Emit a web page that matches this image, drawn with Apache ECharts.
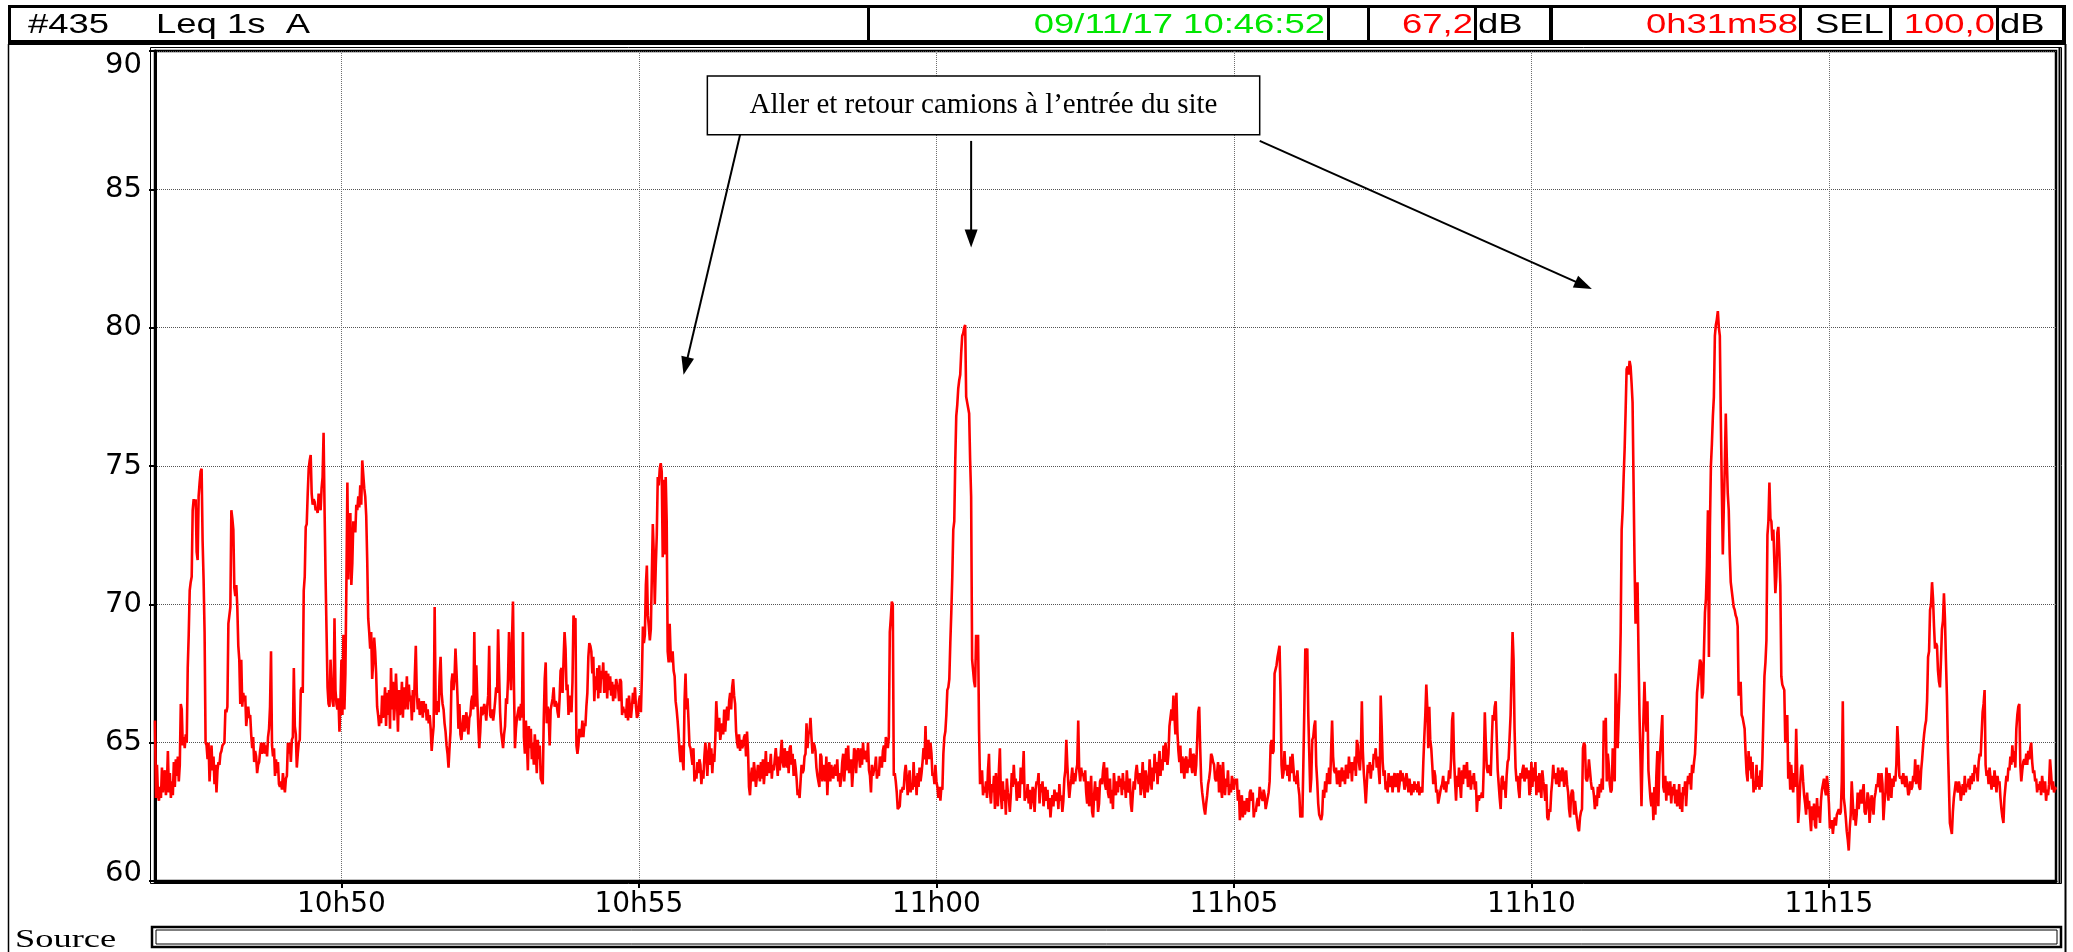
<!DOCTYPE html>
<html><head><meta charset="utf-8">
<script src="https://cdn.jsdelivr.net/npm/echarts@6/dist/echarts.min.js"></script>
<style>html,body{margin:0;padding:0;background:#fff;}#c{width:2073px;height:952px;}</style>
</head><body><div id="c"></div>
<script>
// ---- data ----
const startTime = '10:46:52';
const tickLabels = ['10h50', '10h55', '11h00', '11h05', '11h10', '11h15'];
const yTicks = [60, 65, 70, 75, 80, 85, 90];
// Leq 1s A, one value per second (dB)
const leq = [
65.8,63.0,64.2,63.1,62.9,63.4,63.0,64.1,63.2,63.8,64.0,63.1,63.5,64.7,63.2,63.9,63.0,63.6,63.1,64.3,
63.4,64.4,63.8,64.5,63.6,64.2,66.4,66.2,64.9,65.2,64.8,65.3,65.0,67.7,68.9,70.5,70.8,71.0,73.4,73.8,
73.6,73.8,71.9,71.6,73.9,74.4,74.8,74.9,72.3,70.9,69.0,65.0,64.9,64.4,65.0,63.6,64.3,64.9,64.0,64.5,
63.5,64.2,63.2,64.0,64.3,64.2,64.6,64.7,64.9,64.9,65.0,66.2,66.1,66.3,69.3,69.6,69.9,73.4,73.1,72.7,
70.6,70.3,70.7,69.9,68.5,68.0,66.4,68.0,66.3,66.8,66.5,66.7,65.6,66.0,66.3,65.9,66.0,65.3,64.8,65.2,
64.3,64.7,64.5,63.9,64.2,64.3,64.7,65.0,64.6,64.9,65.0,64.6,64.9,64.5,65.2,65.5,66.3,68.3,64.9,64.5,
64.8,63.8,64.4,63.9,64.3,63.5,63.4,63.6,63.3,63.9,63.5,63.2,63.7,63.8,65.0,64.6,65.0,64.3,65.1,65.2,
67.7,65.6,65.3,64.1,64.6,65.0,65.1,66.9,67.0,66.8,70.5,71.0,72.8,72.9,74.0,74.9,75.2,75.4,74.0,73.6,
73.8,73.7,73.4,73.5,73.3,74.0,73.7,73.4,74.2,74.6,76.2,73.4,71.0,69.0,67.0,66.4,66.3,68.0,67.0,66.5,
66.3,69.5,66.9,66.4,66.2,66.6,65.4,66.5,68.0,66.0,68.9,66.2,67.5,70.7,74.4,70.9,72.6,73.3,70.7,71.5,
73.0,72.9,72.6,73.6,73.4,73.9,73.5,74.3,73.6,75.2,74.7,74.2,73.9,73.2,71.6,69.5,69.0,68.4,69.0,67.3,
67.9,68.8,68.3,67.5,66.3,66.0,65.6,66.0,65.7,66.7,65.9,66.3,67.0,65.6,66.8,66.0,66.9,65.5,67.7,66.2,
67.2,65.8,66.4,67.5,66.6,65.4,66.9,66.0,66.3,67.2,65.9,67.0,66.2,66.6,67.4,66.2,67.1,66.5,66.7,65.8,
66.9,66.1,67.4,68.5,66.8,66.2,66.6,66.0,66.3,66.5,65.9,66.5,66.1,66.4,65.8,66.2,65.7,66.0,65.5,64.7,
65.2,65.6,69.9,66.4,66.0,66.5,66.1,67.4,68.1,66.8,66.4,66.2,65.7,65.4,64.9,64.6,64.1,64.8,65.4,67.2,
67.5,66.9,67.3,68.4,67.6,66.7,65.5,66.4,65.3,65.1,65.6,66.0,65.4,65.7,66.1,65.6,65.3,65.9,66.0,66.5,
66.7,66.2,69.0,66.3,67.8,66.6,65.6,64.8,65.4,66.3,66.0,66.1,66.4,66.2,65.8,66.3,66.7,68.5,66.0,65.9,
66.2,65.8,66.1,66.5,67.0,66.8,69.1,67.5,66.1,65.4,65.1,64.8,65.3,65.6,66.6,66.4,67.3,69.0,67.8,66.9,
68.7,70.1,67.0,64.8,65.5,65.9,66.1,66.3,65.8,66.4,65.9,69.0,65.2,64.6,65.8,65.0,64.0,65.6,64.8,65.5,
64.4,65.0,64.2,65.3,64.7,63.9,65.1,64.4,64.9,63.7,63.6,63.5,65.8,67.3,67.9,65.7,66.3,66.0,64.9,66.2,
66.2,66.6,67.0,66.3,66.5,66.4,66.1,65.9,66.6,67.6,67.7,66.8,68.0,69.0,68.4,66.9,67.1,66.0,66.7,66.4,
66.1,67.2,69.6,69.4,69.5,64.9,64.6,64.9,65.5,65.2,65.3,65.8,65.2,65.7,65.6,66.3,66.8,68.1,68.6,68.5,
68.3,67.5,68.1,66.5,67.4,66.9,67.7,66.6,67.8,66.8,67.6,67.3,67.9,66.8,67.1,67.6,66.6,67.5,66.9,67.4,
66.7,67.2,66.5,67.1,66.6,67.3,67.1,67.0,66.5,67.3,67.2,66.0,66.3,66.1,66.2,65.9,66.6,65.8,66.7,66.2,
65.9,66.3,66.8,66.4,67.0,66.3,65.9,66.0,66.5,66.7,66.1,67.4,69.2,68.6,68.9,70.7,71.4,69.6,69.2,68.7,
69.1,71.0,72.9,71.8,70.0,71.4,72.5,74.6,74.3,74.9,75.1,74.8,71.7,74.5,71.8,74.6,73.0,68.3,67.9,69.3,
68.2,67.9,68.3,67.6,67.4,66.5,66.2,65.8,65.3,64.7,64.3,64.9,64.4,64.0,66.5,67.5,66.2,66.6,65.8,64.9,
64.8,64.5,64.2,64.8,63.6,64.0,63.7,64.3,63.9,64.4,64.2,63.5,64.0,63.7,64.5,65.0,64.5,63.8,64.6,65.0,
64.2,64.8,63.9,64.6,64.3,65.1,66.5,65.8,65.4,65.9,65.1,65.4,65.7,65.3,66.2,65.4,66.0,66.3,65.8,66.5,
66.8,66.2,67.0,67.3,66.7,66.4,65.4,65.0,64.8,65.3,64.7,65.1,64.8,64.9,65.2,65.3,64.5,65.4,64.7,63.4,
63.1,63.8,64.1,63.6,64.3,63.9,63.4,63.8,64.2,63.9,63.6,64.3,63.7,64.4,63.5,64.0,64.7,63.8,64.3,63.9,
64.1,64.6,63.7,64.2,64.0,64.4,64.8,64.3,63.8,64.5,64.0,64.6,65.1,64.3,64.1,64.8,64.4,64.1,64.7,63.9,
64.8,64.9,64.2,64.6,63.8,64.4,64.1,63.7,63.1,63.3,63.0,63.6,64.2,63.9,64.0,64.5,64.6,65.7,64.8,65.3,
65.4,65.9,65.2,64.6,65.0,64.9,64.7,64.1,63.8,63.6,63.4,64.6,64.5,63.6,64.2,63.9,63.6,64.5,63.1,64.0,
64.3,63.6,64.2,63.9,63.7,64.1,64.2,63.8,64.4,63.6,63.9,63.4,63.7,64.3,64.6,63.6,64.2,64.8,64.0,64.9,
63.9,64.1,64.4,63.4,64.0,64.8,64.7,63.9,64.6,64.8,64.5,64.1,64.8,64.2,65.0,64.4,64.7,64.6,64.3,65.0,
64.0,63.8,63.2,64.2,63.8,64.0,64.1,64.5,63.7,63.9,63.8,64.5,64.3,64.1,64.7,64.9,64.3,65.2,65.1,64.8,
65.2,69.0,69.5,70.1,70.0,63.8,63.9,63.6,63.2,62.6,62.6,62.7,63.3,63.2,63.4,63.3,63.9,64.2,63.8,63.1,
63.6,64.0,63.2,63.5,63.3,64.3,63.4,63.8,63.1,63.9,63.4,64.1,63.6,63.9,64.3,64.8,64.4,65.6,64.2,64.9,
65.1,64.4,65.0,64.6,63.8,63.9,63.5,64.2,63.6,63.4,63.0,63.4,62.9,63.4,63.3,64.6,65.2,65.4,66.0,66.9,
67.0,67.3,68.6,69.7,71.0,72.7,73.0,75.2,76.8,77.2,77.8,78.1,78.3,79.1,79.7,79.8,80.0,80.1,77.5,77.3,
77.1,76.9,75.2,73.9,68.0,67.6,67.2,67.0,68.9,68.0,68.9,65.4,63.5,63.8,64.0,63.1,63.4,63.2,63.6,63.0,
64.0,64.6,63.2,62.8,63.5,63.2,63.8,62.6,63.9,63.1,62.7,64.0,64.8,63.1,62.6,63.6,62.9,63.3,62.4,63.7,
63.2,63.0,62.5,63.1,63.9,63.4,64.2,63.5,63.7,62.9,63.3,63.6,63.0,64.1,63.5,63.8,64.7,62.9,63.2,63.0,
63.5,62.8,63.3,62.6,62.9,63.4,63.2,62.5,63.3,63.6,63.5,63.9,62.8,63.5,63.2,63.6,62.7,63.1,63.4,62.9,
63.3,62.6,63.0,62.3,62.8,63.1,62.7,63.3,63.0,62.9,63.2,62.6,63.5,62.9,63.1,62.5,62.9,63.7,64.0,65.1,
64.2,63.5,63.0,63.4,63.7,64.1,63.5,63.9,63.6,64.0,64.2,65.8,64.0,63.6,64.1,63.8,63.9,63.6,64.0,63.2,
62.8,63.6,62.7,62.9,63.8,62.5,62.3,63.1,63.6,62.9,63.4,62.5,62.8,63.6,63.7,63.5,64.0,64.3,63.5,63.3,
64.1,63.2,63.0,63.7,62.8,63.3,62.6,63.9,63.4,63.1,63.6,63.2,63.8,63.4,63.7,63.1,63.9,63.3,63.6,63.0,
64.0,63.4,63.2,63.7,62.8,62.5,63.1,63.6,63.3,63.9,64.2,63.8,63.5,63.9,63.1,63.6,64.3,63.4,63.0,64.0,
63.7,63.2,63.5,64.4,63.8,63.3,64.1,63.6,64.6,63.9,64.3,63.5,64.2,64.7,63.8,64.4,64.0,64.9,64.3,65.0,
64.5,64.2,64.6,65.6,65.9,66.2,65.8,66.7,66.0,65.3,66.8,65.4,64.7,64.3,64.9,63.9,64.5,64.2,63.7,64.4,
64.5,63.9,64.4,64.1,64.8,64.2,63.9,64.6,64.5,63.8,64.2,65.1,66.1,66.3,64.8,63.6,63.2,62.9,62.6,62.4,
62.8,63.1,63.5,63.7,64.0,64.6,64.5,64.3,64.2,63.7,63.6,63.9,64.3,63.2,64.2,63.4,63.0,64.3,63.5,63.1,
63.7,63.4,64.0,63.1,63.5,63.2,63.8,63.5,63.3,63.7,63.5,63.7,62.9,63.3,62.2,62.8,63.1,62.3,62.9,62.4,
62.6,63.0,62.6,62.5,63.2,63.3,62.9,63.2,62.3,62.6,62.5,62.8,63.0,62.7,63.4,63.2,63.0,62.9,63.3,63.1,
62.6,62.8,63.0,63.2,63.6,64.9,65.1,64.6,64.7,67.5,67.5,67.8,68.1,68.3,68.5,66.8,64.2,63.7,63.9,64.7,
64.0,64.2,63.8,64.2,63.6,64.5,63.9,64.6,64.1,63.6,63.8,63.5,64.0,63.4,63.1,62.3,62.4,62.3,64.2,66.2,
68.4,68.3,68.4,66.0,64.6,63.2,63.7,65.1,65.2,65.6,65.8,64.2,63.6,62.8,62.4,62.3,62.2,62.4,63.3,63.0,
63.6,63.2,63.9,63.5,64.1,63.5,64.7,65.8,64.5,64.0,63.9,64.1,63.5,63.7,64.0,63.4,63.9,64.1,63.6,64.0,
63.5,64.2,64.0,63.7,64.5,63.9,64.3,63.6,64.3,64.0,64.5,63.8,65.1,64.9,64.3,64.0,64.6,66.5,64.7,63.9,
63.4,62.8,63.5,64.2,63.9,64.3,63.7,64.2,64.0,64.6,64.4,64.8,64.1,64.5,64.0,63.5,66.7,65.6,64.3,63.8,
64.0,63.3,63.6,63.2,63.9,63.4,63.5,63.8,63.2,63.7,63.9,63.4,63.6,63.9,63.2,63.5,64.0,63.6,63.9,63.7,
63.3,63.5,63.9,63.6,63.2,63.7,63.4,63.1,63.5,63.2,63.6,63.3,63.5,63.2,63.6,63.1,63.4,63.3,63.2,64.3,
65.2,66.0,67.1,66.3,64.8,66.3,65.1,64.8,64.2,63.5,64.0,63.8,63.2,63.3,62.8,63.0,63.2,63.4,63.5,63.8,
63.3,63.6,63.2,63.6,63.5,64.0,63.7,64.4,65.8,66.1,64.4,63.6,62.9,63.8,63.4,64.1,63.5,63.0,64.0,63.5,
64.2,63.7,63.9,64.3,63.4,63.6,64.0,63.3,63.8,63.5,63.9,63.3,63.6,62.5,63.1,62.9,63.1,63.0,63.2,63.0,
64.2,66.1,65.0,64.1,63.9,64.2,64.0,63.8,65.0,66.0,65.8,66.3,66.5,65.2,64.0,63.5,63.0,62.6,63.7,63.8,
63.3,63.6,63.0,63.8,64.3,64.4,64.4,66.0,67.5,69.0,68.0,65.5,64.1,63.6,63.8,63.3,63.0,63.9,63.7,64.0,
64.2,63.6,63.8,64.1,63.7,64.0,63.1,63.3,64.3,63.4,64.1,63.6,64.3,63.1,63.8,63.2,63.9,63.4,63.0,64.0,
63.6,63.3,62.9,63.5,62.3,62.2,62.6,62.5,63.2,63.6,64.2,63.7,63.9,63.5,63.6,64.1,63.4,64.0,63.6,64.1,
64.0,63.4,63.7,64.0,63.5,63.2,62.6,62.3,63.1,63.3,63.2,62.4,62.9,62.5,62.2,61.9,61.8,62.3,62.5,62.6,
64.8,65.0,64.9,63.7,63.6,63.8,64.4,64.0,63.6,63.3,63.4,63.1,62.6,63.1,62.7,63.4,63.0,63.5,63.2,63.7,
63.3,65.8,65.5,65.9,63.6,64.6,64.2,63.5,63.2,63.3,64.8,64.6,63.6,67.5,66.1,64.8,65.9,67.0,69.0,72.7,
73.4,74.6,75.6,77.0,78.5,78.6,78.3,78.8,78.6,78.0,77.3,74.4,71.5,69.3,69.6,70.8,68.2,66.0,64.4,62.7,
64.5,65.9,67.2,66.0,65.4,66.5,64.0,63.5,63.0,62.7,63.2,62.2,63.4,62.4,63.8,64.7,62.7,64.2,64.8,65.4,
66.0,63.4,63.2,63.8,62.9,63.6,63.3,63.1,63.6,62.8,63.4,63.1,63.5,62.8,63.3,62.7,62.9,63.5,62.6,63.2,
62.5,63.4,63.1,63.6,62.7,63.4,63.8,63.5,63.9,63.3,64.2,63.9,64.3,64.6,65.5,66.8,67.2,67.6,68.0,67.9,
66.6,66.8,68.3,69.7,70.2,71.4,73.4,68.1,72.8,75.0,75.8,76.8,77.5,79.7,80.1,80.3,80.6,80.0,79.7,76.7,
74.2,71.8,73.5,75.0,76.9,75.3,74.0,73.4,71.8,70.8,70.8,70.2,69.9,69.8,69.6,69.5,69.2,66.7,66.9,67.2,
66.0,65.9,65.7,65.5,64.6,63.9,63.6,64.7,64.0,64.5,63.7,64.3,63.2,63.6,63.3,64.2,63.4,63.8,63.3,64.0,
63.4,64.5,66.0,67.4,67.9,68.7,72.5,73.0,74.4,73.1,73.0,72.3,72.7,71.5,70.4,71.0,72.6,72.8,71.9,70.7,
67.4,67.1,67.0,66.9,65.0,65.8,66.0,63.7,64.3,63.3,64.2,63.5,63.2,63.9,63.4,65.5,64.0,62.1,62.6,63.5,
64.1,64.2,63.6,63.1,62.8,62.4,63.2,62.6,62.9,62.3,61.8,62.7,62.2,62.8,62.0,61.9,63.0,62.3,62.7,62.1,
62.9,63.3,63.5,63.7,63.3,63.1,63.8,63.4,62.8,61.9,62.0,62.2,61.7,62.1,62.3,62.0,62.4,62.5,62.6,62.4,
62.5,63.6,66.5,63.0,62.7,62.3,61.8,61.5,61.1,61.9,62.4,63.6,62.9,62.2,62.6,62.0,62.4,63.2,62.6,63.0,
63.3,62.8,63.2,63.5,62.5,62.4,62.7,63.2,63.0,62.1,62.6,63.1,62.8,62.4,63.0,63.2,63.5,63.4,63.9,63.6,
63.2,63.9,63.5,62.2,62.8,63.2,64.1,63.6,62.9,63.9,63.5,63.0,63.7,63.4,63.8,63.6,64.2,65.6,64.9,63.8,
63.7,63.8,63.5,63.9,63.6,63.4,63.8,63.5,63.1,63.2,63.6,63.3,63.4,63.8,63.6,64.4,63.5,63.9,64.2,63.4,
63.3,64.0,64.4,64.9,65.3,65.6,65.8,66.5,68.1,68.3,69.8,70.0,70.8,70.2,69.2,68.4,68.6,68.5,67.6,67.2,
67.0,68.0,69.1,69.4,70.4,69.5,68.0,66.7,64.8,63.5,62.1,61.9,61.7,62.5,63.0,63.3,63.6,63.4,63.2,63.6,
63.4,62.9,62.9,63.5,63.1,63.8,63.2,63.5,63.4,63.7,63.3,63.8,63.5,63.9,63.6,64.2,63.9,64.1,63.6,64.3,
64.6,64.5,65.3,66.1,66.4,66.9,64.2,63.8,64.0,63.5,64.1,63.7,63.3,63.8,63.4,64.0,63.6,63.2,63.8,63.5,
63.6,63.0,62.6,62.3,62.1,63.0,63.4,63.8,63.6,64.1,64.0,64.5,64.2,64.9,64.3,64.7,64.1,65.5,66.0,66.3,
66.4,64.2,63.6,64.0,64.3,64.4,64.2,64.6,64.2,64.7,64.4,64.8,65.0,64.3,63.9,64.0,63.6,63.7,63.2,63.5,
63.3,63.6,63.1,63.8,63.4,63.2,63.6,62.9,63.3,63.1,63.5,64.4,63.9,63.3,63.6,63.2,63.4,63.3
];
// header texts
const headerId = '#435';
const headerTitle = 'Leq 1s  A';
const headerDate = '09/11/17 10:46:52';
const headerLeq = '67,2';
const headerDuration = '0h31m58';
const headerSel = '100,0';
const annotationText = 'Aller et retour camions à l’entrée du site';
// annotation anchors in data space: [second index, dB]
const annotationBox = [[557, 89.1], [1114, 86.97]];
const arrowFrom = [[590, 86.97], [823, 86.75], [1114, 86.75]];
const arrowTo = [[533, 78.3], [823, 82.9], [1449, 81.4]];

// ---- build ----
const chart = echarts.init(document.getElementById('c'), null, {width: 2073, height: 952});
const pad = n => String(n).padStart(2, '0');
const [sh, sm, ss] = startTime.split(':').map(Number);
const startSec = sh * 3600 + sm * 60 + ss;
const categories = leq.map((_, i) => {
  const t = startSec + i;
  return pad(Math.floor(t / 3600)) + ':' + pad(Math.floor(t / 60) % 60) + ':' + pad(t % 60);
});
function fmt(v) {
  const p = v.split(':');
  return p[2] === '00' ? (+p[0]) + 'h' + p[1] : '';
}
const isTick = (i, v) => tickLabels.indexOf(fmt(v)) >= 0;
const yMin = yTicks[0], yMax = yTicks[yTicks.length - 1];

chart.setOption({
  animation: false,
  backgroundColor: '#fff',
  grid: {left: 155, right: 17, top: 51, bottom: 71, show: true, borderColor: '#000', borderWidth: 2.5, backgroundColor: '#fff'},
  xAxis: {
    type: 'category', data: categories, boundaryGap: false,
    axisLine: {show: true, lineStyle: {color: '#000', width: 3}},
    axisTick: {show: true, interval: isTick, length: 7, lineStyle: {color: '#000', width: 2}},
    axisLabel: {interval: isTick, formatter: v => fmt(v), color: '#000', fontFamily: 'DejaVu Sans', fontSize: 28, margin: 10},
    splitLine: {show: true, interval: isTick, lineStyle: {color: '#6e6e6e', type: 'dotted', width: 1}}
  },
  yAxis: {
    type: 'value', min: yMin, max: yMax, interval: 5,
    axisLine: {show: true, lineStyle: {color: '#000', width: 3}},
    axisTick: {show: true, length: 6, lineStyle: {color: '#000', width: 2}},
    axisLabel: {color: '#000', fontFamily: 'DejaVu Sans', fontSize: 29, margin: 13,
      verticalAlignMaxLabel: 'top',
      formatter: v => v === yMin ? '{lo|' + v + '}' : String(v),
      rich: {lo: {fontFamily: 'DejaVu Sans', fontSize: 29, color: '#000', padding: [0, 0, 16, 0]}}},
    splitLine: {show: true, lineStyle: {color: '#555', type: 'dotted', width: 1}}
  },
  series: [{
    type: 'line', data: leq, symbol: 'none', showSymbol: false,
    lineStyle: {color: '#ff0000', width: 2.6}, itemStyle: {color: '#ff0000'}
  }]
});

// ---- decorations ----
const g = [];
const hText = (txt, x, align, color) => ({
  type: 'text', x: x, y: 26, scaleX: 1.35, z: 110,
  style: {text: txt, fill: color, fontFamily: 'Liberation Sans', fontSize: 27, align: align, verticalAlign: 'middle'}
});
g.push({type: 'rect', z: 100, shape: {x: 8, y: 5, width: 2058, height: 40}, style: {fill: '#000'}});
[[11, 867], [870, 1327], [1330, 1367], [1370, 1474], [1477, 1549], [1553, 1799], [1802, 1889], [1892, 1996], [1999, 2062]]
  .forEach(c => g.push({type: 'rect', z: 105, shape: {x: c[0], y: 8, width: c[1] - c[0], height: 32}, style: {fill: '#fff'}}));
g.push(hText(headerId, 28, 'left', '#000'));
g.push(hText(headerTitle, 156, 'left', '#000'));
g.push(hText(headerDate, 1325, 'right', '#00e600'));
g.push(hText(headerLeq, 1473, 'right', '#ff0000'));
g.push(hText('dB', 1478, 'left', '#000'));
g.push(hText(headerDuration, 1798, 'right', '#ff0000'));
g.push(hText('SEL', 1815, 'left', '#000'));
g.push(hText(headerSel, 1995, 'right', '#ff0000'));
g.push(hText('dB', 2000, 'left', '#000'));
// page side borders
g.push({type: 'line', z: 90, shape: {x1: 8.5, y1: 44, x2: 8.5, y2: 952}, style: {stroke: '#000', lineWidth: 1.5}});
g.push({type: 'line', z: 90, shape: {x1: 2065.5, y1: 44, x2: 2065.5, y2: 952}, style: {stroke: '#000', lineWidth: 2}});
// plot double frame
g.push({type: 'rect', z: 90, shape: {x: 150.5, y: 47.5, width: 1911, height: 836}, style: {fill: 'none', stroke: '#000', lineWidth: 1}});
g.push({type: 'line', z: 90, shape: {x1: 2059.5, y1: 48, x2: 2059.5, y2: 884}, style: {stroke: '#000', lineWidth: 2}});
// source row
g.push({type: 'text', x: 15, y: 940, scaleX: 1.4, z: 90,
  style: {text: 'Source', fill: '#000', fontFamily: 'Liberation Serif', fontSize: 26, align: 'left', verticalAlign: 'middle'}});
g.push({type: 'rect', z: 90, shape: {x: 152, y: 927, width: 1909, height: 20}, style: {fill: '#fff', stroke: '#000', lineWidth: 2.5}});
g.push({type: 'rect', z: 91, shape: {x: 156, y: 930, width: 1901, height: 14}, style: {fill: 'none', stroke: '#000', lineWidth: 1}});

// annotation (positions from data space)
const px = pt => chart.convertToPixel({gridIndex: 0}, pt);
const b0 = px(annotationBox[0]), b1 = px(annotationBox[1]);
g.push({type: 'rect', z: 120, shape: {x: b0[0], y: b0[1], width: b1[0] - b0[0], height: b1[1] - b0[1]},
  style: {fill: '#fff', stroke: '#000', lineWidth: 1.5}});
g.push({type: 'text', z: 121, x: (b0[0] + b1[0]) / 2, y: (b0[1] + b1[1]) / 2,
  style: {text: annotationText, fill: '#000', fontFamily: 'Liberation Serif', fontSize: 29, align: 'center', verticalAlign: 'middle'}});
arrowFrom.forEach((f, k) => {
  const a = px(f), t = px(arrowTo[k]);
  const dx = t[0] - a[0], dy = t[1] - a[1], len = Math.hypot(dx, dy);
  const ux = dx / len, uy = dy / len, nx = -uy, ny = ux;
  const L = 18, W = 13;
  g.push({type: 'line', z: 120, shape: {x1: a[0], y1: a[1], x2: t[0] - ux * L * 0.8, y2: t[1] - uy * L * 0.8},
    style: {stroke: '#000', lineWidth: 2}});
  g.push({type: 'polygon', z: 120, shape: {points: [[t[0], t[1]],
    [t[0] - ux * L + nx * W / 2, t[1] - uy * L + ny * W / 2],
    [t[0] - ux * L - nx * W / 2, t[1] - uy * L - ny * W / 2]]}, style: {fill: '#000'}});
});
chart.setOption({graphic: g});
</script>
</body></html>
